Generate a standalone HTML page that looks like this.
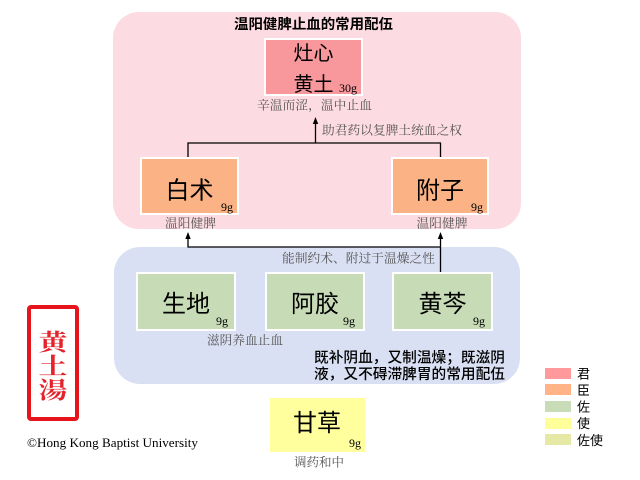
<!DOCTYPE html>
<html><head><meta charset="utf-8"><style>
html,body{margin:0;padding:0;background:#fff;width:640px;height:480px;overflow:hidden}
svg{display:block}
.s{font-family:"Liberation Sans","Noto Sans CJK SC",sans-serif}
.r{font-family:"Liberation Serif","Noto Serif CJK SC",serif}
.g{fill:#555;font-family:"Liberation Serif","Noto Serif CJK SC",serif;font-size:12.5px}
.big{font-family:"Liberation Sans","Noto Sans CJK SC",sans-serif;font-size:24px;fill:#000}
.w{font-family:"Liberation Serif",serif;font-size:12px;fill:#000}
</style></head><body>
<svg width="640" height="480" viewBox="0 0 640 480" xmlns="http://www.w3.org/2000/svg">
<!-- panels -->
<rect x="113" y="12" width="408" height="217" rx="26" fill="#FDDBE2"/>
<rect x="114" y="247" width="406" height="137" rx="26" fill="#D9E0F3"/>
<text x="313.5" y="29" text-anchor="middle" class="s" font-size="14" font-weight="bold" textLength="159" lengthAdjust="spacingAndGlyphs">温阳健脾止血的常用配伍</text>

<!-- 君 -->
<rect x="265" y="39" width="97" height="56" fill="#F8979C" stroke="#fff" stroke-width="2"/>
<text x="313.5" y="60" text-anchor="middle" class="s" font-size="20">灶心</text>
<text x="313.5" y="91" text-anchor="middle" class="s" font-size="20">黄土</text>
<text x="339" y="92" class="w">30g</text>
<text x="314.5" y="109.5" text-anchor="middle" class="g" textLength="115" lengthAdjust="spacingAndGlyphs">辛温而涩，温中止血</text>

<!-- connector top -->
<line x1="315.5" y1="143" x2="315.5" y2="123" stroke="#000" stroke-width="1.3"/>
<polygon points="315.5,117 312.8,124 318.2,124" fill="#000"/>
<polyline points="188,158 188,143 440.5,143 440.5,158" fill="none" stroke="#000" stroke-width="1.3"/>
<text x="322" y="134.5" class="g" textLength="140" lengthAdjust="spacingAndGlyphs">助君药以复脾土统血之权</text>

<!-- 臣 -->
<rect x="141" y="158" width="97" height="56" fill="#FBB386" stroke="#fff" stroke-width="2"/>
<text x="189.5" y="198.5" text-anchor="middle" class="big">白术</text>
<text x="221" y="211" class="w">9g</text>
<rect x="392" y="158" width="96" height="56" fill="#FBB386" stroke="#fff" stroke-width="2"/>
<text x="440" y="198.5" text-anchor="middle" class="big">附子</text>
<text x="471" y="211" class="w">9g</text>
<text x="190.5" y="227.5" text-anchor="middle" class="g" textLength="51" lengthAdjust="spacingAndGlyphs">温阳健脾</text>
<text x="442" y="227.5" text-anchor="middle" class="g" textLength="51" lengthAdjust="spacingAndGlyphs">温阳健脾</text>

<!-- connector middle -->
<line x1="440.5" y1="272" x2="440.5" y2="238" stroke="#000" stroke-width="1.3"/>
<polygon points="440.5,232 437.8,239 443.2,239" fill="#000"/>
<polyline points="188,238 188,247 440.5,247" fill="none" stroke="#000" stroke-width="1.3"/>
<polygon points="188,232 185.3,239 190.7,239" fill="#000"/>
<text x="282" y="262.5" class="g" textLength="153" lengthAdjust="spacingAndGlyphs">能制约术、附过于温燥之性</text>

<!-- 佐 -->
<rect x="137" y="273" width="98" height="57" fill="#C6DBB6" stroke="#fff" stroke-width="2"/>
<text x="186" y="312" text-anchor="middle" class="big">生地</text>
<text x="216" y="325" class="w">9g</text>
<rect x="266" y="273" width="98" height="57" fill="#C6DBB6" stroke="#fff" stroke-width="2"/>
<text x="315" y="312" text-anchor="middle" class="big">阿胶</text>
<text x="343" y="325" class="w">9g</text>
<rect x="393" y="273" width="99" height="57" fill="#C6DBB6" stroke="#fff" stroke-width="2"/>
<text x="442.5" y="312" text-anchor="middle" class="big">黄芩</text>
<text x="473" y="325" class="w">9g</text>
<text x="245" y="344.5" text-anchor="middle" class="g" textLength="76" lengthAdjust="spacingAndGlyphs">滋阴养血止血</text>
<text x="314" y="362.5" class="s" font-size="14.5" font-weight="500" textLength="191" lengthAdjust="spacingAndGlyphs">既补阴血，又制温燥；既滋阴</text>
<text x="314" y="379" class="s" font-size="14.5" font-weight="500" textLength="191" lengthAdjust="spacingAndGlyphs">液，又不碍滞脾胃的常用配伍</text>

<!-- 使 -->
<rect x="270" y="398" width="95" height="54" fill="#FFFF9E"/>
<text x="317" y="431" text-anchor="middle" class="big">甘草</text>
<text x="349" y="447" class="w">9g</text>
<text x="319" y="466.5" text-anchor="middle" class="g" textLength="50" lengthAdjust="spacingAndGlyphs">调药和中</text>

<!-- seal -->
<rect x="29" y="307" width="48" height="112" rx="2" fill="none" stroke="#E8141C" stroke-width="4"/>
<g fill="#E3222A" font-family="'Noto Serif CJK SC','Liberation Serif',serif" font-weight="bold" font-size="23" text-anchor="middle">
<text x="0" y="0" transform="translate(53,350) scale(1.25,1)">黄</text>
<text x="0" y="0" transform="translate(53,374) scale(1.25,1)">土</text>
<text x="0" y="0" transform="translate(53,398) scale(1.25,1)">湯</text>
</g>
<text x="27" y="447" class="r" font-size="13" fill="#000" textLength="171" lengthAdjust="spacingAndGlyphs">©Hong Kong Baptist University</text>

<!-- legend -->
<rect x="545" y="368" width="26" height="11" fill="#FF999B"/>
<rect x="545" y="384" width="26" height="11" fill="#FFB386"/>
<rect x="545" y="401" width="26" height="11" fill="#C8DCB8"/>
<rect x="545" y="418" width="26" height="11" fill="#FFFF99"/>
<rect x="545" y="434" width="26" height="11" fill="#E6E8A6"/>
<g class="s" font-size="13" fill="#000">
<text x="577" y="378.5">君</text>
<text x="577" y="395">臣</text>
<text x="577" y="411.5">佐</text>
<text x="577" y="428">使</text>
<text x="577" y="445">佐使</text>
</g>
</svg>
</body></html>
